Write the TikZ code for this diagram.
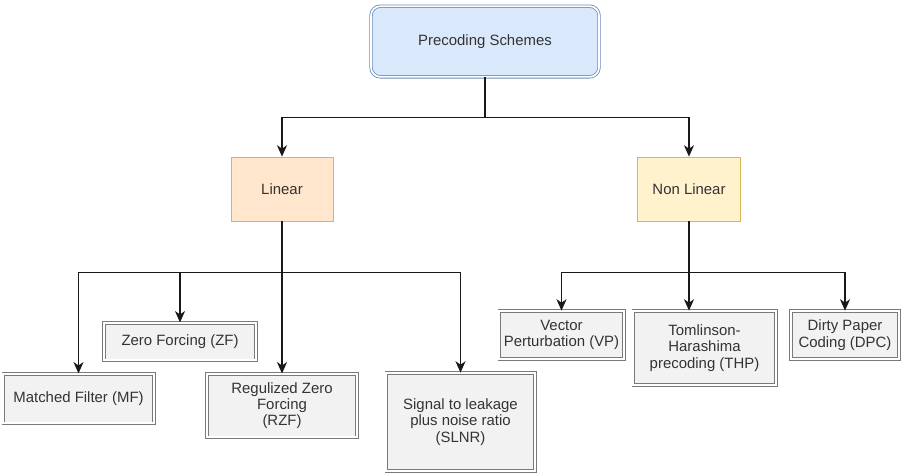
\documentclass[tikz,border=0pt]{standalone}
\usepackage{fontspec}
\setmainfont{Liberation Sans}
\usetikzlibrary{arrows.meta}

\definecolor{rootfill}{HTML}{DAE8FC}
\definecolor{rootline}{HTML}{6C8EBF}
\definecolor{linfill}{HTML}{FFE6CC}
\definecolor{linline}{HTML}{E0B060}
\definecolor{nlfill}{HTML}{FFF2CC}
\definecolor{nlline}{HTML}{D6B656}
\definecolor{leaffill}{HTML}{F2F2F2}
\definecolor{leafline}{HTML}{7A7A7A}
\definecolor{txt}{HTML}{333333}

\begin{document}
\begin{tikzpicture}[
    x=0.75pt, y=-0.75pt,
    every node/.style={font=\fontsize{11.2}{12.2}\selectfont, text=txt, align=center, inner sep=0pt},
    dbl/.style={line width=0.6pt, double=white, double distance=1.3pt},
    rootbox/.style={dbl, draw=rootline, fill=rootfill, rounded corners=7pt},
    branch/.style={draw=#1line, fill=#1fill, line width=0.6pt},
    leaf/.style={dbl, draw=leafline, fill=leaffill},
    link/.style={draw=black!90, line width=0.8pt, -{Stealth[length=8.5pt, width=7.5pt, inset=2.5pt]}}
  ]
\useasboundingbox (0,0) rectangle (903,475);

% Root
\node[rootbox, minimum width=171pt, minimum height=53pt] (root) at (485,41.5) {Precoding Schemes};

% Two families
\node[branch=lin, minimum width=76.5pt, minimum height=48pt] (lin) at (282,189) {Linear};
\node[branch=nl, minimum width=77pt, minimum height=48pt] (nl) at (689,189) {Non Linear};

% Linear schemes
\node[leaf, minimum width=113pt, minimum height=37pt] (mf) at (78.5,398.5) {Matched Filter (MF)};
\node[leaf, minimum width=114pt, minimum height=28pt] (zf) at (180,341.5) {Zero Forcing (ZF)};
\node[leaf, minimum width=112.5pt, minimum height=47.5pt] (rzf) at (282,405.5) {Regulized Zero\\Forcing\\(RZF)};
\node[leaf, minimum width=111.5pt, minimum height=73.5pt] (slnr) at (460.5,422) {Signal to leakage\\plus noise ratio\\(SLNR)};

% Non linear schemes
\node[leaf, minimum width=93.5pt, minimum height=36pt] (vp) at (561.5,335) {Vector\\Perturbation (VP)};
\node[leaf, minimum width=107pt, minimum height=55.5pt] (thp) at (704.5,348) {Tomlinson-\\Harashima\\precoding (THP)};
\node[leaf, minimum width=81pt, minimum height=36pt] (dpc) at (845,335) {Dirty Paper\\Coding (DPC)};

% Connectors
\draw[link] (root.south) -- ++(0,40) -| (lin.north);
\draw[link] (root.south) -- ++(0,40) -| (nl.north);

\foreach \leafname in {mf,zf,rzf,slnr}
  \draw[link] (lin.south) -- ++(0,51) -| (\leafname.north);

\draw[link] (nl.south) -- ++(0,51) -| (vp.north);
\draw[link] (nl.south) -- (nl.south |- thp.north);
\draw[link] (nl.south) -- ++(0,51) -| (dpc.north);

\end{tikzpicture}
\end{document}
